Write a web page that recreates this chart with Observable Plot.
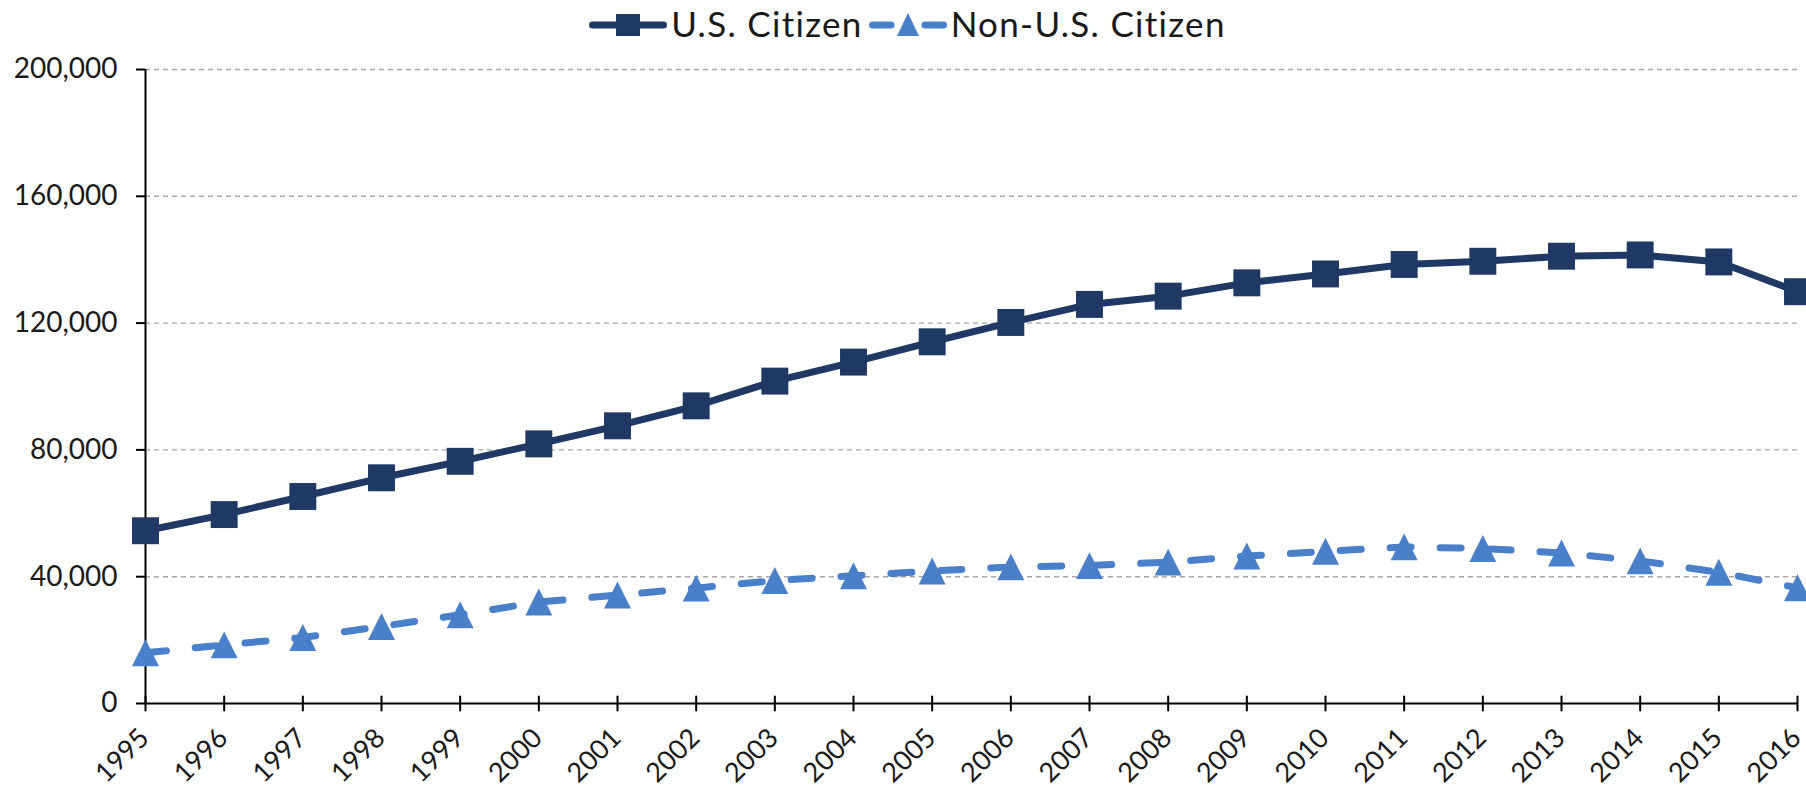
<!DOCTYPE html>
<html>
<head>
<meta charset="utf-8">
<script src="https://cdn.jsdelivr.net/npm/d3@7"></script>
<script src="https://cdn.jsdelivr.net/npm/@observablehq/plot@0.6"></script>
<style>
  html, body { margin: 0; padding: 0; background: #fff; overflow: hidden; }
  #legend { height: 46px; display: flex; align-items: center; justify-content: center; padding-left: 9px;
            font-family: Lato, sans-serif; font-size: 35px; letter-spacing: 1.3px; color: #1a1a1a; }
  #legend .item { display: flex; align-items: center; }
  #legend svg { display: block; }
</style>
</head>
<body>
<div id="legend"></div>
<div id="chart"></div>
<script>
const years = [1995, 1996, 1997, 1998, 1999, 2000, 2001, 2002, 2003, 2004, 2005,
               2006, 2007, 2008, 2009, 2010, 2011, 2012, 2013, 2014, 2015, 2016];
const usCitizen = [54500, 59600, 65300, 71200, 76400, 81900, 87600, 93900, 101700, 107700, 114100,
                   120200, 125900, 128500, 132700, 135500, 138500, 139500, 141100, 141500, 139300, 129900];
const nonUsCitizen = [16000, 18500, 20800, 24300, 28000, 32000, 34200, 36400, 38800, 40300, 41800,
                      43100, 43500, 44600, 46500, 48000, 49400, 48900, 47500, 45000, 41400, 36500];
const seriesNames = ["U.S. Citizen", "Non-U.S. Citizen"];
const yTicks = [0, 40000, 80000, 120000, 160000, 200000];

const navy = "#1f3864";
const blue = "#4a7fca";

const usData = years.map((y, i) => ({year: y, value: usCitizen[i]}));
const nonData = years.map((y, i) => ({year: y, value: nonUsCitizen[i]}));

// isosceles triangle centred on its bounding box (like the spreadsheet marker)
const triangleSymbol = {
  draw(context, size) {
    const h = Math.sqrt(size);
    context.moveTo(0, -h / 2);
    context.lineTo(h / 2, h / 2);
    context.lineTo(-h / 2, h / 2);
    context.closePath();
  }
};
const tickShape = {
  draw(context, l) {
    context.moveTo(0, 0);
    context.lineTo(0, -l);
  }
};

const font = "Lato, sans-serif";

const chart = Plot.plot({
  width: 1806,
  height: 744,
  marginLeft: 145,
  marginRight: 9,
  marginTop: 23,
  marginBottom: 87,
  style: {fontFamily: font, color: "#1a1a1a", background: "white", overflow: "visible"},
  x: {domain: [1995, 2016], axis: null},
  y: {domain: [0, 200000], axis: null},
  marks: [
    Plot.gridY(yTicks.filter(d => d > 0), {stroke: "#a6a6a6", strokeOpacity: 1, strokeWidth: 1.4, strokeDasharray: "5,4"}),
    Plot.axisY({ticks: yTicks, tickSize: 9, tickPadding: 19, tickFormat: d3.format(","), label: null,
                fontSize: 28, strokeWidth: 2, stroke: "#000"}),
    Plot.ruleX([years[0]], {stroke: "#000", strokeWidth: 2}),
    Plot.ruleY([0], {stroke: "#000", strokeWidth: 2}),
    Plot.vector(years, {x: d => d, y: () => 0, length: 14, anchor: "middle", shape: tickShape,
                        stroke: "#000", strokeWidth: 2}),
    Plot.text(years, {x: d => d, y: () => 0, text: d => String(d), rotate: -45,
                      textAnchor: "end", lineAnchor: "middle", dx: -1, dy: 30,
                      fontSize: 27, fill: "#1a1a1a"}),
    Plot.line(usData, {x: "year", y: "value", stroke: navy, strokeWidth: 7,
                       strokeLinejoin: "round", strokeLinecap: "round"}),
    Plot.dot(usData, {x: "year", y: "value", symbol: "square", r: 15.2, fill: navy}),
    Plot.line(nonData, {x: "year", y: "value", stroke: blue, strokeWidth: 7,
                        strokeDasharray: "21,29", strokeLinecap: "round", strokeLinejoin: "round"}),
    Plot.dot(nonData, {x: "year", y: "value", symbol: triangleSymbol, r: 15.2, fill: blue})
  ]
});
document.getElementById("chart").appendChild(chart);

// legend
const legend = document.getElementById("legend");
function swatch(kind) {
  const ns = "http://www.w3.org/2000/svg";
  const svg = document.createElementNS(ns, "svg");
  svg.setAttribute("width", 78);
  svg.setAttribute("height", 46);
  const cy = 25;
  if (kind === 0) {
    svg.innerHTML = `<line x1="3.5" x2="74.5" y1="${cy}" y2="${cy}" stroke="${navy}" stroke-width="7" stroke-linecap="round"/>
      <rect x="${39 - 12}" y="${cy - 11}" width="24" height="22" fill="${navy}"/>`;
  } else {
    svg.innerHTML = `<line x1="3.5" x2="22" y1="${cy}" y2="${cy}" stroke="${blue}" stroke-width="7" stroke-linecap="round"/>
      <line x1="56" x2="74.5" y1="${cy}" y2="${cy}" stroke="${blue}" stroke-width="7" stroke-linecap="round"/>
      <path d="M39,${cy - 12} L50,${cy + 11} L28,${cy + 11} Z" fill="${blue}"/>`;
  }
  return svg;
}
seriesNames.forEach((name, i) => {
  const item = document.createElement("div");
  item.className = "item";
  item.style.marginLeft = i === 0 ? "0px" : "6px";
  item.appendChild(swatch(i));
  const t = document.createElement("span");
  t.textContent = name;
  t.style.marginLeft = "4px";
  item.appendChild(t);
  legend.appendChild(item);
});
</script>
</body>
</html>
